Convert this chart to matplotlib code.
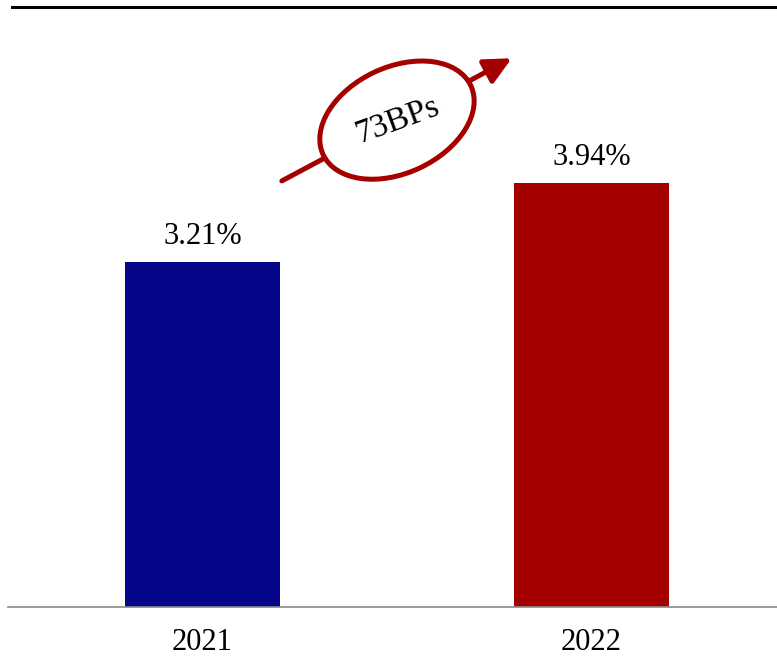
import matplotlib
matplotlib.use("Agg")
import matplotlib.pyplot as plt
from matplotlib.lines import Line2D
from matplotlib.patches import Ellipse
from matplotlib.transforms import Affine2D, ScaledTranslation

categories = ["2021", "2022"]
values = [3.21, 3.94]
value_labels = ["3.21%", "3.94%"]
colors = ["#06068A", "#A50000"]
change_label = "73BPs"
red = "#A50000"

plt.rcParams["font.family"] = ["Liberation Serif", "DejaVu Serif"]

W, H = 777, 660
fig = plt.figure(figsize=(W / 100, H / 100), dpi=100)
ax = fig.add_axes([8 / W, (H - 607) / H, 1 - 8 / W, (607 - 5) / H])

x = list(range(len(categories)))
bars = ax.bar(x, values, width=0.4, color=colors, zorder=2)
ax.bar_label(bars, labels=value_labels, padding=8, fontsize=22, color="black")

ax.set_xlim(-0.5, 1.477)
ax.set_ylim(0, 5.595)
ax.set_xticks(x)
ax.set_xticklabels(categories, fontsize=22)
ax.tick_params(axis="x", length=0, pad=15)
ax.set_yticks([])
for s in ["left", "right", "top"]:
    ax.spines[s].set_visible(False)
ax.spines["bottom"].set_color("#8a8a8a")
ax.spines["bottom"].set_linewidth(1.2)

# top rule
fig.add_artist(Line2D([12 / W, 1], [1 - 6.5 / H, 1 - 6.5 / H], color="black", lw=2.2,
                      transform=fig.transFigure))

# change arrow with ellipse label
ax.annotate("", xy=(0.795, 5.10), xytext=(0.204, 3.96),
            arrowprops=dict(arrowstyle="-|>,head_length=0.45,head_width=0.22",
                            mutation_scale=36, lw=3.6, color=red,
                            shrinkA=0, shrinkB=0),
            zorder=3, annotation_clip=False)
cx, cy = 0.5, 4.525
ell = Ellipse((0, 0), width=163, height=106, angle=25, fc="white", ec=red, lw=3.6,
              transform=Affine2D() + ScaledTranslation(cx, cy, ax.transData),
              zorder=4, clip_on=False)
ax.add_patch(ell)
ax.text(cx + 0.003, cy, change_label, fontsize=24, rotation=20, ha="center", va="center",
        rotation_mode="anchor", zorder=5)

fig.savefig("out.png", dpi=100)
